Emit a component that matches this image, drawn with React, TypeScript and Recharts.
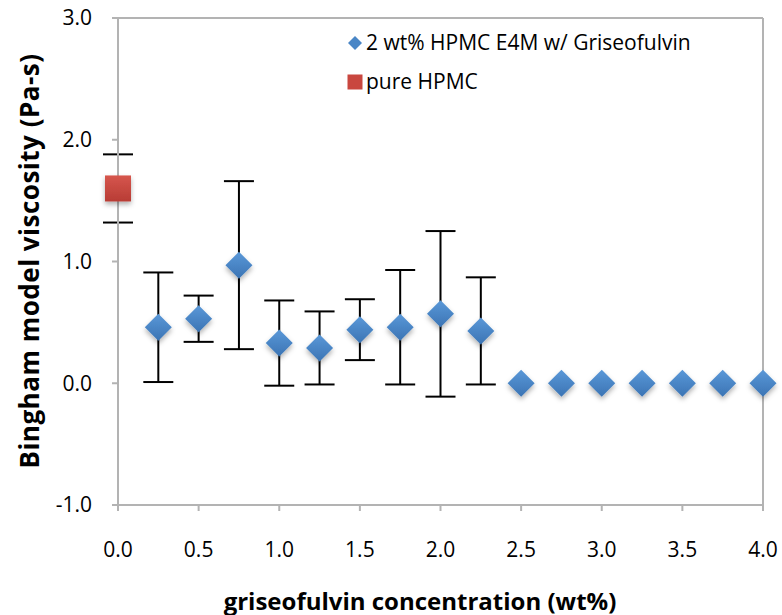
import React from 'react';
import { ComposedChart, Scatter, XAxis, YAxis, ErrorBar, ReferenceLine, Legend, Label } from 'recharts';

const seriesNames = ['2 wt% HPMC E4M w/ Griseofulvin', 'pure HPMC'];

const concentrations = [0.25, 0.5, 0.75, 1.0, 1.25, 1.5, 1.75, 2.0, 2.25, 2.5, 2.75, 3.0, 3.25, 3.5, 3.75, 4.0];
const viscosities = [0.46, 0.53, 0.97, 0.33, 0.29, 0.44, 0.46, 0.57, 0.43, 0, 0, 0, 0, 0, 0, 0];
const viscosityErrors = [0.45, 0.19, 0.69, 0.35, 0.30, 0.25, 0.47, 0.68, 0.44, null, null, null, null, null, null, null];

const pureX = [0];
const pureY = [1.6];
const pureErr = [0.28];

const xTicks = [0, 0.5, 1.0, 1.5, 2.0, 2.5, 3.0, 3.5, 4.0];
const yTicks = [-1, 0, 1, 2, 3];

const griseoData = concentrations.map((x, i) => ({ x, y: viscosities[i], err: viscosityErrors[i] }));
const pureData = pureX.map((x, i) => ({ x, y: pureY[i], err: pureErr[i] }));

const FONT = '"Open Sans", "Liberation Sans", sans-serif';
const AXIS_GRAY = '#b3b3b3';

const Diamond = (props: any) => {
  const { cx, cy } = props;
  if (cx == null || cy == null) return null;
  const r = 13.5;
  return (
    <polygon
      points={`${cx},${cy - r} ${cx + r},${cy} ${cx},${cy + r} ${cx - r},${cy}`}
      fill="url(#blueGrad)"
      filter="url(#shadow)"
    />
  );
};

const Square = (props: any) => {
  const { cx, cy } = props;
  if (cx == null || cy == null) return null;
  const r = 13;
  return <rect x={cx - r} y={cy - r} width={2 * r} height={2 * r} fill="url(#redGrad)" filter="url(#shadow)" />;
};

const LegendContent = () => (
  <div style={{ fontFamily: FONT, fontSize: 21, color: '#000', lineHeight: 1 }}>
    <div style={{ display: 'flex', alignItems: 'center', height: 39 }}>
      <svg width={16} height={16} style={{ marginRight: 3 }}>
        <polygon points="8,1 15,8 8,15 1,8" fill="#4a86c6" />
      </svg>
      <span>{seriesNames[0]}</span>
    </div>
    <div style={{ display: 'flex', alignItems: 'center', height: 39 }}>
      <svg width={16} height={16} style={{ marginRight: 3 }}>
        <rect x={0.5} y={0.5} width={15} height={15} fill="#c9473f" />
      </svg>
      <span>{seriesNames[1]}</span>
    </div>
  </div>
);

export default function App() {
  return (
    <div style={{ position: 'absolute', left: 0, top: 0 }}>
      <ComposedChart width={782} height={615} margin={{ top: 18, right: 19, bottom: 0, left: 0 }}>
        <defs>
          <linearGradient id="blueGrad" x1="0" y1="0" x2="0" y2="1">
            <stop offset="0%" stopColor="#5a98d8" />
            <stop offset="100%" stopColor="#3b74b4" />
          </linearGradient>
          <linearGradient id="redGrad" x1="0" y1="0" x2="0" y2="1">
            <stop offset="0%" stopColor="#d6564d" />
            <stop offset="100%" stopColor="#b83c35" />
          </linearGradient>
          <filter id="shadow" x="-50%" y="-50%" width="200%" height="200%">
            <feDropShadow dx="0" dy="3" stdDeviation="2.5" floodColor="#000" floodOpacity="0.3" />
          </filter>
        </defs>
        <XAxis
          type="number"
          dataKey="x"
          domain={[0, 4]}
          ticks={xTicks}
          interval={0}
          tickFormatter={(v: number) => v.toFixed(1)}
          height={110}
          tickSize={6}
          tickMargin={31}
          stroke={AXIS_GRAY}
          strokeWidth={2}
          tick={{ fill: '#000', fontSize: 21, fontFamily: FONT }}
        >
          <Label
            content={(p: any) => {
              const vb = p.viewBox || {};
              return (
                <text
                  x={420}
                  y={(vb.y || 505) + 95}
                  textAnchor="middle"
                  dominantBaseline="central"
                  fontFamily={FONT}
                  fontWeight="bold"
                  fontSize={24}
                  fill="#000"
                >
                  griseofulvin concentration (wt%)
                </text>
              );
            }}
          />
        </XAxis>
        <YAxis
          type="number"
          dataKey="y"
          domain={[-1, 3]}
          ticks={yTicks}
          interval={0}
          tickFormatter={(v: number) => v.toFixed(1)}
          width={118}
          tickSize={6}
          tickMargin={20}
          stroke={AXIS_GRAY}
          strokeWidth={2}
          tick={{ fill: '#000', fontSize: 21, fontFamily: FONT }}
        >
          <Label
            content={() => (
              <text
                x={29}
                y={261}
                transform="rotate(-90 29 261)"
                textAnchor="middle"
                dominantBaseline="central"
                fontFamily={FONT}
                fontWeight="bold"
                fontSize={26}
                letterSpacing={0.5}
                fill="#000"
              >
                Bingham model viscosity (Pa-s)
              </text>
            )}
          />
        </YAxis>
        <ReferenceLine y={3} stroke={AXIS_GRAY} strokeWidth={2} />
        <ReferenceLine x={4} stroke={AXIS_GRAY} strokeWidth={2} />
        <Legend
          content={<LegendContent />}
          layout="horizontal"
          verticalAlign="middle"
          align="center"
          wrapperStyle={{ top: 23, left: 347, width: 430 }}
        />
        <Scatter name={seriesNames[0]} data={griseoData} shape={<Diamond />} isAnimationActive={false}>
          <ErrorBar dataKey="err" direction="y" width={15} stroke="#000" strokeWidth={2} isAnimationActive={false} />
        </Scatter>
        <Scatter name={seriesNames[1]} data={pureData} shape={<Square />} isAnimationActive={false}>
          <ErrorBar dataKey="err" direction="y" width={15} stroke="#000" strokeWidth={2} isAnimationActive={false} />
        </Scatter>
      </ComposedChart>
    </div>
  );
}
